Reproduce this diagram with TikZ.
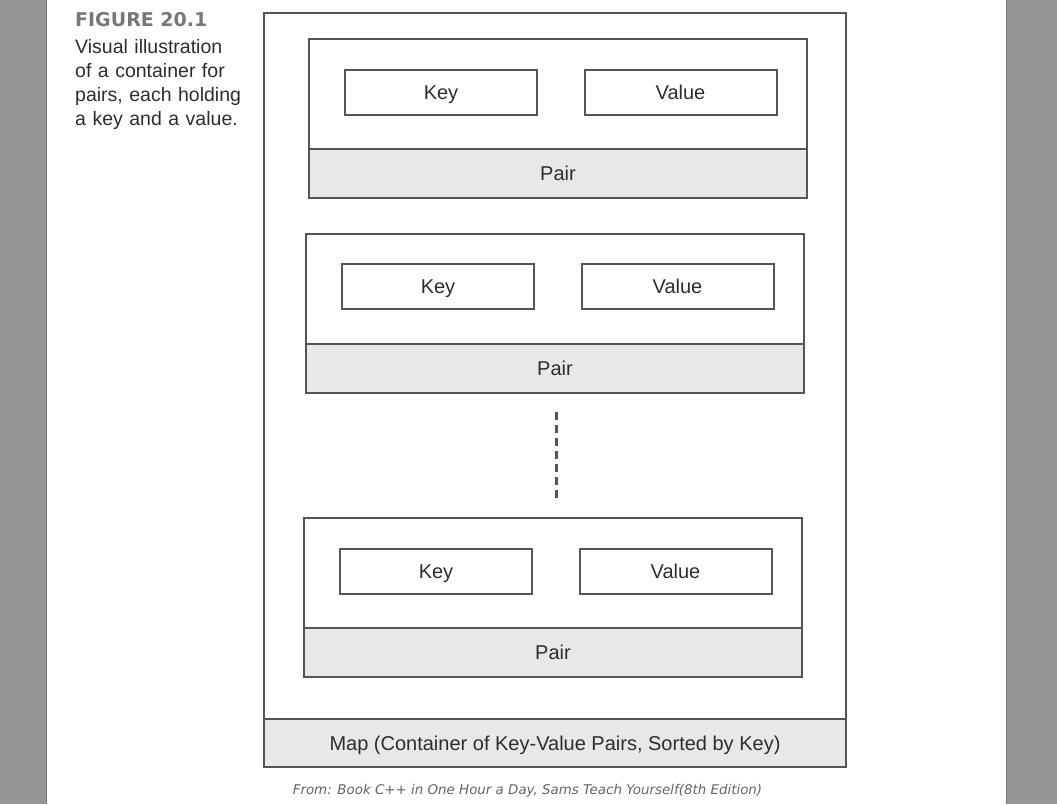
\documentclass[tikz,border=0pt]{standalone}
\usepackage{fontspec}
\setmainfont{Liberation Sans}
\newfontfamily\titlefont{DejaVu Sans}
\usetikzlibrary{positioning}
\definecolor{linegray}{RGB}{85,85,85}
\definecolor{bandgray}{RGB}{231,232,234}
\definecolor{textgray}{RGB}{45,45,45}
\definecolor{titlegray}{RGB}{120,120,120}
\definecolor{sidegray}{RGB}{150,150,150}
\definecolor{edgegray}{RGB}{118,118,118}
\definecolor{notegray}{RGB}{100,100,100}

\begin{document}
\begin{tikzpicture}[
    x=1pt, y=-1pt,
    frame/.style={rectangle, draw=linegray, line width=2pt, fill=white,
                  outer sep=0pt, inner sep=0pt, text=textgray,
                  text height=14pt, text depth=0pt,
                  font=\fontsize{20}{22}\selectfont},
    pairbody/.style={frame, minimum width=498pt, minimum height=110pt},
    pairband/.style={frame, fill=bandgray, minimum width=498pt, minimum height=49pt},
    field/.style={frame, minimum width=192pt, minimum height=45pt},
    gapline/.style={draw=linegray, line width=3pt, dash pattern=on 8pt off 5pt}
]
\useasboundingbox (0,0) rectangle (1057,804);

% page edges
\fill[sidegray] (0,0) rectangle (47,804);
\fill[sidegray] (1006,0) rectangle (1057,804);
\draw[edgegray, line width=1.5pt] (46.5,0) -- (46.5,804);
\draw[edgegray, line width=1.5pt] (1006.5,0) -- (1006.5,804);

% caption
\node[anchor=base west, inner sep=0pt, text=titlegray,
      font=\titlefont\bfseries\fontsize{19}{22}\selectfont] (figtitle) at (75,26) {FIGURE 20.1};
\node[anchor=base west, inner sep=0pt, text width=180pt, align=left, text=textgray,
      font=\fontsize{19.5}{24}\selectfont] (figcaption) at (75,53)
      {Visual illustration\\of a container for\\pairs, each holding\\a key and a value.};

% map
\node[frame, minimum width=582pt, minimum height=706pt] (mapbody) at (555,366) {};
\node[frame, fill=bandgray, minimum width=582pt, minimum height=48pt, below=0pt of mapbody] (mapband)
      {Map (Container of Key-Value Pairs, Sorted by Key)};

% pairs
\node[pairbody] (pair1) at (558,94) {};
\node[pairband, below=0pt of pair1] (pairband1) {Pair};
\node[field] (key1) at ([xshift=-117pt, yshift=1.5pt]pair1.center) {Key};
\node[field, right=47.5pt of key1] (value1) {Value};

\node[pairbody] (pair2) at (555,289) {};
\node[pairband, below=0pt of pair2] (pairband2) {Pair};
\node[field] (key2) at ([xshift=-117pt, yshift=2.5pt]pair2.center) {Key};
\node[field, right=47.5pt of key2] (value2) {Value};

\node[pairbody] (pair3) at (553,573) {};
\node[pairband, below=0pt of pair3] (pairband3) {Pair};
\node[field] (key3) at ([xshift=-117pt, yshift=2pt]pair3.center) {Key};
\node[field, right=47.5pt of key3] (value3) {Value};

% more pairs
\coordinate (gaptop) at (556,412);
\coordinate (gapbottom) at (556,503);
\draw[gapline] (gaptop) -- (gapbottom);

% source
\node[inner sep=0pt, text=notegray, font=\titlefont\itshape\fontsize{13.4}{16}\selectfont] (source)
      at (527.5,791) {From: Book C++ in One Hour a Day, Sams Teach Yourself(8th Edition)};

\end{tikzpicture}
\end{document}
